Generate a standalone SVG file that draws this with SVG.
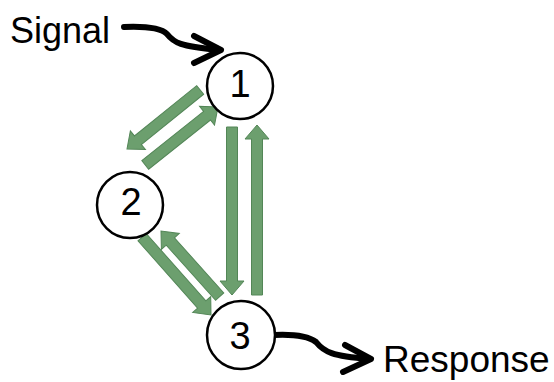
<svg xmlns="http://www.w3.org/2000/svg" width="554" height="382" viewBox="0 0 554 382">
  <style>
    .node circle { fill: #ffffff; stroke: #000000; stroke-width: 2.5; }
    .node text { font-family: "Liberation Sans", Arial, sans-serif; font-size: 38px; fill: #000000; text-anchor: middle; }
    .label { font-family: "Liberation Sans", Arial, sans-serif; font-size: 36px; fill: #000000; }
    .flow { fill: #6c9f6e; stroke: #538657; stroke-width: 1; stroke-linejoin: miter; }
    .curve { fill: none; stroke: #000000; stroke-width: 6; stroke-linecap: round; stroke-linejoin: round; }
  </style>

  <!-- labels -->
  <text class="label" x="10" y="43">Signal</text>
  <text class="label" x="383" y="372" style="font-size:37px">Response</text>

  <g id="connectors">
    <!-- green block arrows: local frame has the tip at the origin pointing along +x -->
    <g transform="translate(127,149) rotate(141.1)"><polygon class="flow" points="-94,-5.5 -14,-5.5 -14,-12 0,0 -14,12 -14,5.5 -94,5.5"/></g>
    <g transform="translate(218,107) rotate(-38.5)"><polygon class="flow" points="-93,-5.5 -14,-5.5 -14,-12 0,0 -14,12 -14,5.5 -93,5.5"/></g>
    <g transform="translate(232,295) rotate(90)"><polygon class="flow" points="-168,-5.5 -14,-5.5 -14,-12 0,0 -14,12 -14,5.5 -168,5.5"/></g>
    <g transform="translate(257,125) rotate(-90)"><polygon class="flow" points="-170,-5.5 -14,-5.5 -14,-12 0,0 -14,12 -14,5.5 -170,5.5"/></g>
    <g transform="translate(211,315) rotate(48.5)"><polygon class="flow" points="-104,-5.5 -14,-5.5 -14,-12 0,0 -14,12 -14,5.5 -104,5.5"/></g>
    <g transform="translate(161,231) rotate(-131.8)"><polygon class="flow" points="-88,-5.5 -14,-5.5 -14,-12 0,0 -14,12 -14,5.5 -88,5.5"/></g>

    <!-- signal input -->
    <path class="curve" d="M124,27 C148,26 161,28 167,34 C174,43 180,46 218,50"/>
    <path class="curve" d="M194,36 L221,50 L194,63"/>
    <!-- response output -->
    <path class="curve" d="M274,335 C295,334 308,336 316,342 C324,352 332,356 369,359"/>
    <path class="curve" d="M345,345 L371,359 L343,372"/>
  </g>

  <g id="node1" class="node">
    <circle cx="240" cy="86" r="33"/>
    <text x="240" y="97">1</text>
  </g>
  <g id="node2" class="node">
    <circle cx="130" cy="205" r="33"/>
    <text x="131" y="215">2</text>
  </g>
  <g id="node3" class="node">
    <circle cx="241" cy="335" r="34"/>
    <text x="240" y="349">3</text>
  </g>
</svg>
